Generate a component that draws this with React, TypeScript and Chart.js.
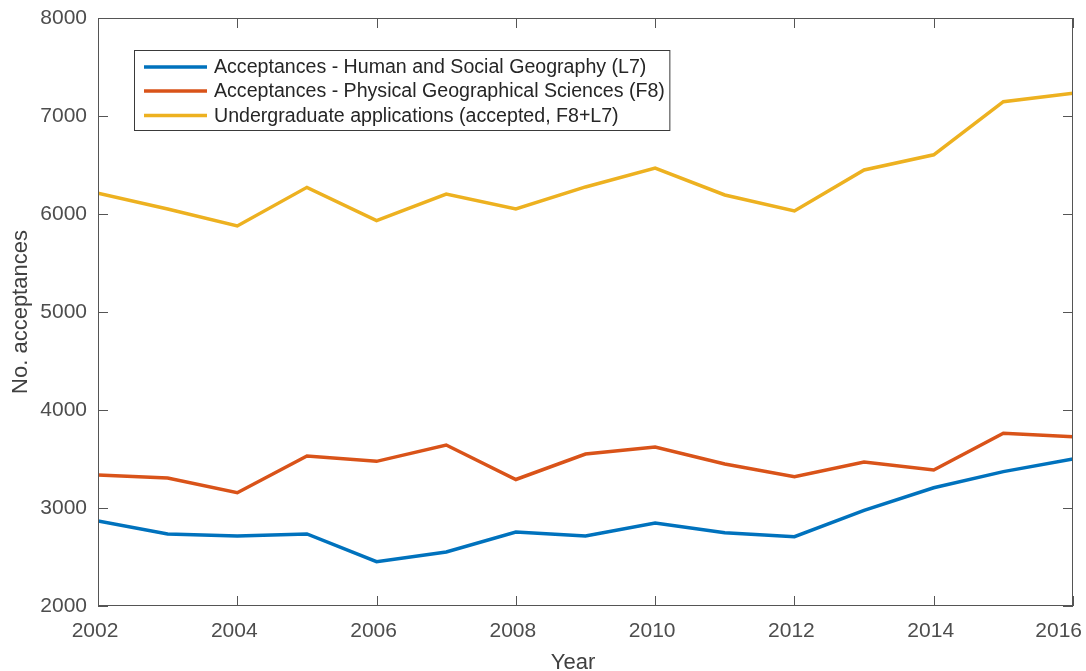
import React, { useEffect, useRef } from "react";
import { Chart, registerables } from "chart.js";

Chart.register(...registerables);

const years = [2002, 2003, 2004, 2005, 2006, 2007, 2008, 2009, 2010, 2011, 2012, 2013, 2014, 2015, 2016];
const humanSocial = [2867, 2735, 2714, 2735, 2452, 2551, 2755, 2714, 2847, 2748, 2707, 2975, 3207, 3371, 3500];
const physical = [3337, 3306, 3156, 3531, 3476, 3643, 3291, 3551, 3622, 3449, 3320, 3469, 3388, 3762, 3728];
const undergrad = [6211, 6051, 5878, 6272, 5932, 6204, 6051, 6276, 6469, 6194, 6031, 6449, 6604, 7146, 7233];

const seriesLabels = [
  "Acceptances - Human and Social Geography (L7)",
  "Acceptances - Physical Geographical Sciences (F8)",
  "Undergraduate applications (accepted, F8+L7)",
];
const seriesColors = ["#0072BD", "#D95319", "#EDB120"];
const xTicks = [2002, 2004, 2006, 2008, 2010, 2012, 2014, 2016];
const yTicks = [2000, 3000, 4000, 5000, 6000, 7000, 8000];
const xTitle = "Year";
const yTitle = "No. acceptances";

const FONT = "'Liberation Sans', Arial, Helvetica, sans-serif";

const decorPlugin = {
  id: "decor",
  afterDraw(chart: any) {
    const ctx = chart.ctx as CanvasRenderingContext2D;
    const { left, right, top, bottom } = chart.chartArea;
    const xs = chart.scales.x;
    const ys = chart.scales.y;
    const W = chart.width;
    ctx.save();
    // frame
    ctx.strokeStyle = "#555555";
    ctx.lineWidth = 1;
    ctx.strokeRect(Math.round(left) + 0.5, Math.round(top) + 0.5, Math.round(right - left) - 1, Math.round(bottom - top) - 1);
    // inward ticks
    const tl = 10;
    ctx.beginPath();
    for (const v of xTicks) {
      const px = Math.round(xs.getPixelForValue(v)) + 0.5;
      ctx.moveTo(px, bottom);
      ctx.lineTo(px, bottom - tl);
      ctx.moveTo(px, top);
      ctx.lineTo(px, top + tl);
    }
    for (const v of yTicks) {
      const py = Math.round(ys.getPixelForValue(v)) + 0.5;
      ctx.moveTo(left, py);
      ctx.lineTo(left + tl, py);
      ctx.moveTo(right, py);
      ctx.lineTo(right - tl, py);
    }
    ctx.stroke();

    // x tick labels (kept inside the figure)
    ctx.fillStyle = "#4d4d4d";
    ctx.font = `21px ${FONT}`;
    ctx.textAlign = "center";
    ctx.textBaseline = "alphabetic";
    for (const v of xTicks) {
      const s = String(v);
      const w = ctx.measureText(s).width;
      let cx = xs.getPixelForValue(v) - 3;
      cx = Math.min(cx, W - 4 - w / 2);
      ctx.fillText(s, cx, 637);
    }

    // axis titles
    ctx.fillStyle = "#404040";
    ctx.font = `22px ${FONT}`;
    ctx.textAlign = "center";
    ctx.fillText(xTitle, 573, 669);
    ctx.save();
    ctx.translate(27, (top + bottom) / 2);
    ctx.rotate(-Math.PI / 2);
    ctx.fillText(yTitle, 0, 0);
    ctx.restore();

    // legend
    ctx.font = `19.6px ${FONT}`;
    let maxW = 0;
    for (const l of seriesLabels) maxW = Math.max(maxW, ctx.measureText(l).width);
    const bx = 134.5;
    const by = 50.5;
    const textX = 214;
    const bw = textX + maxW + 5 - bx;
    const bh = 80;
    ctx.fillStyle = "#ffffff";
    ctx.fillRect(bx, by, bw, bh);
    ctx.strokeStyle = "#3a3a3a";
    ctx.lineWidth = 1;
    ctx.strokeRect(bx, by, bw, bh);
    const rows = [67, 91, 115.5];
    ctx.textAlign = "left";
    ctx.textBaseline = "middle";
    seriesLabels.forEach((l, i) => {
      ctx.strokeStyle = seriesColors[i];
      ctx.lineWidth = 3.5;
      ctx.beginPath();
      ctx.moveTo(144, rows[i]);
      ctx.lineTo(207, rows[i]);
      ctx.stroke();
      ctx.fillStyle = "#262626";
      ctx.fillText(l, textX, rows[i] + 1);
    });
    ctx.restore();
  },
};

export default function App() {
  const ref = useRef<HTMLCanvasElement | null>(null);
  useEffect(() => {
    if (!ref.current) return;
    const mk = (vals: number[]) => years.map((y, i) => ({ x: y, y: vals[i] }));
    const chart = new Chart(ref.current, {
      type: "line",
      data: {
        datasets: [humanSocial, physical, undergrad].map((vals, i) => ({
          label: seriesLabels[i],
          data: mk(vals),
          borderColor: seriesColors[i],
          backgroundColor: seriesColors[i],
          borderWidth: 3.5,
          pointRadius: 0,
          tension: 0,
          fill: false,
        })),
      },
      options: {
        responsive: false,
        animation: false,
        events: [],
        layout: { padding: { left: 0, top: 18, right: 13, bottom: 0 } },
        plugins: { legend: { display: false }, tooltip: { enabled: false }, title: { display: false } },
        scales: {
          x: {
            type: "linear",
            min: 2002,
            max: 2016,
            grid: { display: false, drawTicks: false },
            border: { display: false },
            ticks: {
              display: false,
              stepSize: 2,
              autoSkip: false,
              callback: (v: any) => String(v),
            },
            afterFit: (s: any) => {
              s.height = 65;
              s.paddingLeft = 0;
              s.paddingRight = 0;
            },
          },
          y: {
            type: "linear",
            min: 2000,
            max: 8000,
            grid: { display: false, drawTicks: false },
            border: { display: false },
            ticks: {
              stepSize: 1000,
              padding: 11,
              color: "#4d4d4d",
              font: { family: FONT, size: 21 },
              callback: (v: any) => String(v),
            },
            afterFit: (s: any) => {
              s.width = 98;
              s.paddingTop = 0;
              s.paddingBottom = 0;
            },
          },
        },
      },
      plugins: [decorPlugin],
    });
    return () => chart.destroy();
  }, []);
  return (
    <div style={{ position: "fixed", left: 0, top: 0, width: 1086, height: 671, background: "#fff" }}>
      <canvas ref={ref} width={1086} height={671} style={{ display: "block", width: 1086, height: 671 }} />
    </div>
  );
}
